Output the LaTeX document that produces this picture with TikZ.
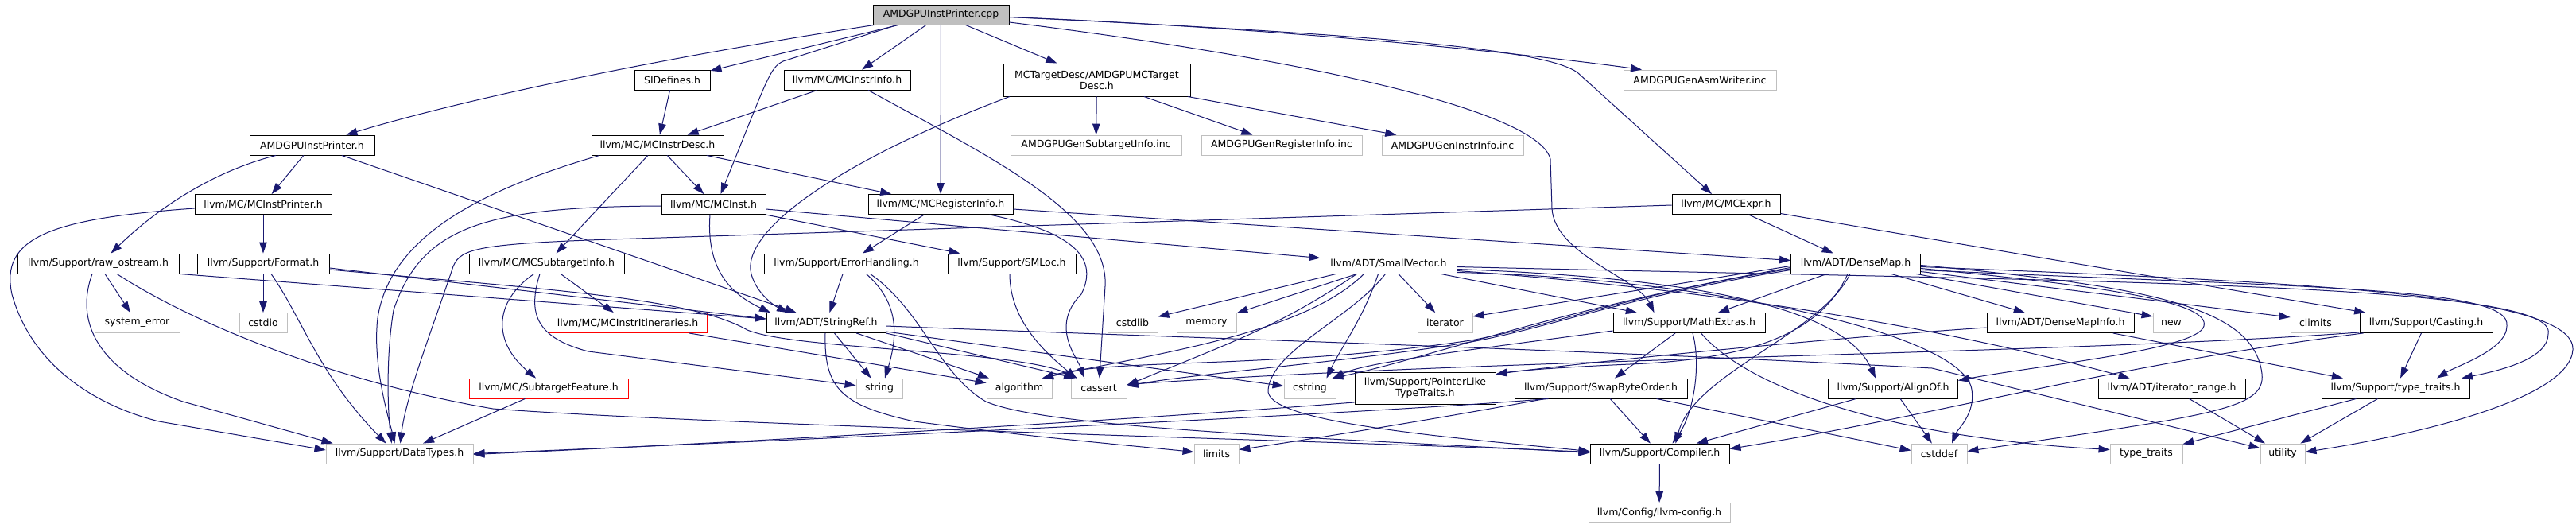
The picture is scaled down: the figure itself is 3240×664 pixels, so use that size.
\documentclass[tikz,border=0pt]{standalone}
\usepackage{fontspec}
\newfontfamily\dvs{DejaVu Sans}
\usetikzlibrary{arrows.meta}
\definecolor{edgec}{RGB}{25,25,112}
\definecolor{lgray}{RGB}{191,191,191}
\definecolor{cppfill}{RGB}{191,191,191}
\definecolor{rred}{RGB}{255,0,0}
\begin{document}
\begin{tikzpicture}[x=1pt,y=-1pt,
  nbox/.style={draw=black, line width=0.9pt, rectangle, minimum height=25pt, inner sep=0pt, font={\dvs\fontsize{12.5}{14}\selectfont}, text=black},
  xbox/.style={nbox, draw=lgray},
  rbox/.style={nbox, draw=rred},
  edg/.style={draw=edgec, line width=1pt, -{Triangle[length=14pt,width=9.5pt]}}]
\fill[white] (0,0) rectangle (3240,664);
\useasboundingbox (0,0) rectangle (3240,664);
% nodes
\node[nbox, fill=cppfill, minimum width=171pt] (cpp) at (1183.5,18.5) {AMDGPUInstPrinter.cpp};
\node[nbox, minimum width=157pt] (aiph) at (392.5,182.5) {AMDGPUInstPrinter.h};
\node[nbox, minimum width=95pt] (sid) at (845.5,100.5) {SIDefines.h};
\node[nbox, minimum width=159pt] (mii) at (1065.5,100.5) {llvm/MC/MCInstrInfo.h};
\node[nbox, minimum width=235pt, minimum height=41pt, align=center] (mtd) at (1379.5,100.5) {MCTargetDesc/AMDGPUMCTarget\\Desc.h};
\node[xbox, minimum width=192pt] (asm) at (2138,100.5) {AMDGPUGenAsmWriter.inc};
\node[nbox, minimum width=166pt] (mid) at (827,182.5) {llvm/MC/MCInstrDesc.h};
\node[xbox, minimum width=215pt] (gsi) at (1378.5,182.5) {AMDGPUGenSubtargetInfo.inc};
\node[xbox, minimum width=202pt] (gri) at (1612,182.5) {AMDGPUGenRegisterInfo.inc};
\node[xbox, minimum width=178pt] (gii) at (1827,182.5) {AMDGPUGenInstrInfo.inc};
\node[nbox, minimum width=172pt] (mip) at (331,257) {llvm/MC/MCInstPrinter.h};
\node[nbox, minimum width=131pt] (minst) at (897.5,257) {llvm/MC/MCInst.h};
\node[nbox, minimum width=182pt] (mri) at (1183,257) {llvm/MC/MCRegisterInfo.h};
\node[nbox, minimum width=136pt] (mex) at (2171,257) {llvm/MC/MCExpr.h};
\node[nbox, minimum width=203pt] (raw) at (123.5,331.5) {llvm/Support/raw\_ostream.h};
\node[nbox, minimum width=166pt] (fmt) at (331,331.5) {llvm/Support/Format.h};
\node[nbox, minimum width=195pt] (msi) at (687.5,331.5) {llvm/MC/MCSubtargetInfo.h};
\node[nbox, minimum width=207pt] (eh) at (1064.5,331.5) {llvm/Support/ErrorHandling.h};
\node[nbox, minimum width=161pt] (sml) at (1272.5,331.5) {llvm/Support/SMLoc.h};
\node[nbox, minimum width=171pt] (sv) at (1746.5,331.5) {llvm/ADT/SmallVector.h};
\node[nbox, minimum width=163pt] (dm) at (2334,331.5) {llvm/ADT/DenseMap.h};
\node[xbox, minimum width=107pt] (se) at (172.5,406) {system\_error};
\node[xbox, minimum width=60pt] (cstdio) at (331,406) {cstdio};
\node[rbox, minimum width=199pt] (mit) at (789.5,406) {llvm/MC/MCInstrItineraries.h};
\node[nbox, minimum width=150pt] (sr) at (1039,406) {llvm/ADT/StringRef.h};
\node[xbox, minimum width=63pt] (cstdlib) at (1424.5,406) {cstdlib};
\node[xbox, minimum width=75pt] (memory) at (1517.5,406) {memory};
\node[xbox, minimum width=69pt] (iter) at (1817.5,406) {iterator};
\node[nbox, minimum width=191pt] (me) at (2124.5,406) {llvm/Support/MathExtras.h};
\node[nbox, minimum width=185pt] (dmi) at (2591.5,406) {llvm/ADT/DenseMapInfo.h};
\node[xbox, minimum width=46pt] (new) at (2731,406) {new};
\node[xbox, minimum width=63pt] (climits) at (2912.5,406) {climits};
\node[nbox, minimum width=167pt] (cast) at (3051.5,406) {llvm/Support/Casting.h};
\node[rbox, minimum width=200pt] (sf) at (690,488.5) {llvm/MC/SubtargetFeature.h};
\node[xbox, minimum width=58pt] (string) at (1106,488.5) {string};
\node[xbox, minimum width=82pt] (algorithm) at (1282,488.5) {algorithm};
\node[xbox, minimum width=70pt] (cassert) at (1382,488.5) {cassert};
\node[xbox, minimum width=65pt] (cstring) at (1647.5,488.5) {cstring};
\node[nbox, minimum width=177pt, minimum height=40pt, align=center] (pltt) at (1792.5,488.5) {llvm/Support/PointerLike\\TypeTraits.h};
\node[nbox, minimum width=217pt] (sbo) at (2013.5,488.5) {llvm/Support/SwapByteOrder.h};
\node[nbox, minimum width=163pt] (ao) at (2381,488.5) {llvm/Support/AlignOf.h};
\node[nbox, minimum width=185pt] (ir) at (2731.5,488.5) {llvm/ADT/iterator\_range.h};
\node[nbox, minimum width=186pt] (tth) at (3013,488.5) {llvm/Support/type\_traits.h};
\node[xbox, minimum width=185pt] (dt) at (502.5,570.5) {llvm/Support/DataTypes.h};
\node[xbox, minimum width=56pt] (limits) at (1530,570.5) {limits};
\node[nbox, minimum width=175pt] (comp) at (2087.5,570.5) {llvm/Support/Compiler.h};
\node[xbox, minimum width=70pt] (cstddef) at (2439,570.5) {cstddef};
\node[xbox, minimum width=91pt] (tt) at (2699.5,570.5) {type\_traits};
\node[xbox, minimum width=56pt] (util) at (2871,570.5) {utility};
\node[xbox, minimum width=178pt] (cfg) at (2087,645) {llvm/Config/llvm-config.h};
% edges: cpp
\draw[edg] (cpp) .. controls (850,70) and (600,120) .. (aiph);
\draw[edg] (cpp) -- (sid);
\draw[edg] ([xshift=-55.5pt]cpp.south) -- (985,77) .. controls (968,85) and (965,100) .. ([xshift=9pt]minst.north);
\draw[edg] (cpp) -- (mii);
\draw[edg] (cpp) -- (mri);
\draw[edg] (cpp) -- (mtd);
\draw[edg] ([yshift=-3pt]cpp.east) .. controls (1600,35) and (1900,65) .. ([xshift=-73pt]asm.north);
\draw[edg] ([yshift=-3pt]cpp.east) .. controls (1700,42) and (1945,60) .. (1985,92) -- ([xshift=-18pt]mex.north);
\draw[edg] ([yshift=-9.5pt]cpp.east) .. controls (1650,75) and (1935,140) .. (1950,200) -- (1952,262) .. controls (1955,320) and (2060,350) .. ([xshift=-44pt]me.north);
% aiph
\draw[edg] (aiph) -- (mip);
\draw[edg] ([xshift=-45.5pt]aiph.south) .. controls (270,215) and (200,260) .. ([xshift=16pt]raw.north);
\draw[edg] (aiph) -- (sr);
% mip
\draw[edg] (mip) -- (fmt);
\draw[edg] ([yshift=-5pt]mip.west) .. controls (60,275) and (0,300) .. (15,370) .. controls (40,460) and (120,510) .. (200,530) -- ([yshift=4.5pt]dt.west);
% raw
\draw[edg] (raw) -- (se);
\draw[edg] ([xshift=-7.5pt]raw.south) .. controls (92,410) and (130,470) .. (230,505) -- ([xshift=-84pt]dt.north);
\draw[edg] (raw.south east) -- ([yshift=5pt]sr.west);
\draw[edg] ([xshift=23.5pt]raw.south) .. controls (240,405) and (420,480) .. (620,514) .. controls (900,535) and (1700,555) .. ([yshift=2pt]comp.west);
% fmt
\draw[edg] (fmt) -- (cstdio);
\draw[edg] ([xshift=10pt]fmt.south) .. controls (380,400) and (400,470) .. ([xshift=-17pt]dt.north);
\draw[edg] ([yshift=-5.5pt]fmt.east) -- ([yshift=5pt]sr.west);
\draw[edg] ([yshift=-7.5pt]fmt.east) .. controls (700,365) and (870,375) .. (940,415) .. controls (1000,440) and (1280,440) .. ([xshift=-27pt]cassert.north);
% msi
\draw[edg] (msi) -- (mit);
\draw[edg] ([xshift=-16pt]msi.south) .. controls (620,380) and (620,430) .. ([xshift=-16pt]sf.north);
\draw[edg] ([xshift=-8.5pt]msi.south) .. controls (663,395) and (675,425) .. (740,442) -- (string);
% mid
\draw[edg] (mid) -- (minst);
\draw[edg] (mid) -- (mri);
\draw[edg] (mid) -- (msi);
\draw[edg] ([xshift=-73pt]mid.south) .. controls (600,240) and (490,300) .. (475,400) .. controls (468,460) and (490,530) .. ([xshift=-6pt]dt.north);
% mii, sid
\draw[edg] (mii) -- (mid);
\draw[edg] ([xshift=26.5pt]mii.south) .. controls (1250,200) and (1395,270) .. (1390,360) -- (cassert);
\draw[edg] (sid) -- (mid);
% mtd
\draw[edg] (mtd) -- (gsi);
\draw[edg] (mtd) -- (gri);
\draw[edg] (mtd) -- (gii);
\draw[edg] ([xshift=-109.5pt]mtd.south) .. controls (1060,200) and (930,290) .. (945,345) .. controls (952,370) and (975,385) .. ([xshift=-48pt]sr.north);
% minst
\draw[edg] ([yshift=-6pt]minst.east) -- ([yshift=7pt]sv.west);
\draw[edg] (minst) -- (sml);
\draw[edg] ([xshift=-4.5pt]minst.south) .. controls (888,340) and (920,370) .. ([xshift=-70pt]sr.north);
\draw[edg] ([yshift=-2pt]minst.west) .. controls (610,260) and (530,285) .. (495,390) .. controls (485,450) and (488,520) .. ([xshift=-10pt]dt.north);
% mri
\draw[edg] ([yshift=-6pt]mri.east) -- ([yshift=4pt]dm.west);
\draw[edg] (mri) -- (eh);
\draw[edg] ([xshift=61.5pt]mri.south) .. controls (1340,290) and (1385,320) .. (1360,370) .. controls (1320,410) and (1355,450) .. ([xshift=-18pt]cassert.north);
% mex
\draw[edg] (mex) -- (dm);
\draw[edg] (mex) -- (cast);
\draw[edg] ([yshift=-1pt]mex.west) -- (800,300) .. controls (600,306) and (580,312) .. (570,335) .. controls (545,410) and (510,500) .. ([xshift=1pt]dt.north);
% eh
\draw[edg] (eh) -- (sr);
\draw[edg] ([xshift=25pt]eh.south) .. controls (1130,380) and (1130,420) .. ([xshift=7pt]string.north);
\draw[edg] ([xshift=30pt]eh.south) .. controls (1160,390) and (1180,470) .. (1240,505) .. controls (1320,540) and (1700,552) .. ([yshift=1pt]comp.west);
% sml
\draw[edg] ([xshift=-2.5pt]sml.south) .. controls (1270,400) and (1310,440) .. ([xshift=-28pt]cassert.north);
% sv
\draw[edg] ([xshift=-66pt]sv.south) -- (cstdlib);
\draw[edg] (sv) -- (memory);
\draw[edg] (sv) -- (iter);
\draw[edg] (sv) -- (me);
\draw[edg] ([xshift=-13pt]sv.south) .. controls (1715,400) and (1685,440) .. ([xshift=21pt]cstring.north);
\draw[edg] ([xshift=-40pt]sv.south) .. controls (1610,410) and (1550,430) .. ([yshift=4pt]cassert.east);
\draw[edg] ([xshift=-31pt]sv.south) .. controls (1640,420) and (1450,445) .. ([xshift=29pt]algorithm.north);
\draw[edg] ([yshift=-7pt]sv.east) .. controls (2150,350) and (2320,390) .. ([xshift=-22pt]ao.north);
\draw[edg] ([yshift=-9pt]sv.east) .. controls (2100,360) and (2400,400) .. ([xshift=-53pt]ir.north);
\draw[edg] ([yshift=-4pt]sv.east) .. controls (2650,355) and (3220,355) .. (3205,420) .. controls (3205,450) and (3150,465) .. ([xshift=83pt]tth.north);
\draw[edg] ([yshift=-11pt]sv.east) .. controls (2150,350) and (2470,420) .. (2480,490) .. controls (2485,520) and (2462,540) .. ([xshift=16pt]cstddef.north);
\draw[edg] ([xshift=-4pt]sv.south) .. controls (1700,400) and (1600,440) .. (1595,490) .. controls (1590,530) and (1800,548) .. ([yshift=3pt]comp.west);
% dm
\draw[edg] (dm) -- (dmi);
\draw[edg] ([yshift=-6pt]dm.east) .. controls (2650,360) and (2780,380) .. (2772,410) .. controls (2765,440) and (2560,460) .. ([yshift=10pt]ao.east);
\draw[edg] ([xshift=-7pt]dm.south) .. controls (2290,420) and (2130,470) .. ([xshift=20pt]comp.north);
\draw[edg] (dm) -- (me);
\draw[edg] ([xshift=-10pt]dm.south) .. controls (2290,420) and (2200,452) .. (2050,458) .. controls (1960,462) and (1910,466) .. ([yshift=18pt]pltt.east);
\draw[edg] ([yshift=-8pt]dm.east) .. controls (2900,362) and (3160,360) .. (3153,410) .. controls (3153,440) and (3090,460) .. ([xshift=52pt]tth.north);
\draw[edg] ([yshift=-6.5pt]dm.west) .. controls (2050,370) and (1950,410) .. (1850,428) .. controls (1600,465) and (1400,450) .. ([xshift=29pt]algorithm.north);
\draw[edg] ([yshift=-8pt]dm.west) .. controls (2050,372) and (1950,412) .. (1850,430) .. controls (1700,455) and (1500,470) .. ([yshift=3pt]cassert.east);
\draw[edg] ([yshift=-10pt]dm.east) -- ([yshift=7pt]climits.west);
\draw[edg] ([yshift=-2pt]dm.east) .. controls (2700,360) and (2835,385) .. (2845,470) .. controls (2850,515) and (2780,522) .. ([yshift=3pt]cstddef.east);
\draw[edg] ([yshift=-5pt]dm.west) .. controls (1950,390) and (1800,450) .. ([xshift=28pt]cstring.north);
\draw[edg] ([yshift=-3pt]dm.west) -- ([yshift=8pt]iter.east);
\draw[edg] ([xshift=76pt]dm.south) -- ([yshift=8pt]new.west);
\draw[edg] ([yshift=-4pt]dm.east) .. controls (2900,355) and (3240,370) .. (3236,440) .. controls (3232,500) and (3050,545) .. ([yshift=2pt]util.east);
% me
\draw[edg] ([yshift=-10pt]me.west) .. controls (1850,440) and (1720,455) .. ([xshift=29pt]cstring.north);
\draw[edg] (me) -- (sbo);
\draw[edg] ([xshift=4.5pt]me.south) .. controls (2140,460) and (2130,520) .. ([xshift=16pt]comp.north);
\draw[edg] ([xshift=15pt]me.south) .. controls (2200,490) and (2380,550) .. ([yshift=5pt]tt.west);
% sbo
\draw[edg] (sbo) -- (comp);
\draw[edg] ([xshift=70pt]sbo.south) -- ([yshift=4pt]cstddef.west);
\draw[edg] ([xshift=-66pt]sbo.south) .. controls (1700,522) and (900,558) .. (dt.east);
\draw[edg] ([xshift=-70pt]sbo.south) .. controls (1800,528) and (1650,552) .. ([yshift=5pt]limits.east);
% pltt
\draw[edg] ([yshift=3pt]pltt.south west) .. controls (1400,530) and (900,558) .. ([yshift=-1pt]dt.east);
% ao
\draw[edg] (ao) -- (comp);
\draw[edg] (ao) -- (cstddef);
% cast
\draw[edg] (cast) -- (tth);
\draw[edg] ([xshift=5pt]cast.south west) .. controls (2650,460) and (2450,520) .. ([yshift=6pt]comp.east);
\draw[edg] ([yshift=1pt]cast.south west) .. controls (2600,445) and (1900,450) .. ([yshift=5pt]cassert.east);
% dmi
\draw[edg] ([yshift=-6pt]dmi.west) .. controls (2300,425) and (2000,455) .. ([yshift=18pt]pltt.east);
\draw[edg] (dmi) -- (tth);
% tth, ir
\draw[edg] (tth) -- (tt);
\draw[edg] (tth) -- (util);
\draw[edg] (ir) -- (util);
% sr
\draw[edg] (sr) -- (string);
\draw[edg] (sr) -- (algorithm);
\draw[edg] (sr.south east) -- ([xshift=-30pt]cassert.north);
\draw[edg] ([yshift=-11pt]sr.east) -- ([yshift=3pt]cstring.west);
\draw[edg] ([yshift=-4pt]sr.east) .. controls (1500,425) and (2000,440) .. (2430,463) -- (util);
\draw[edg] ([xshift=-1pt]sr.south) .. controls (1036,490) and (1060,510) .. (1150,530) .. controls (1300,550) and (1420,560) .. ([yshift=2pt]limits.west);
% others
\draw[edg] (mit) -- (algorithm);
\draw[edg] (sf) -- (dt);
\draw[edg] (comp) -- (cfg);
\end{tikzpicture}
\end{document}
